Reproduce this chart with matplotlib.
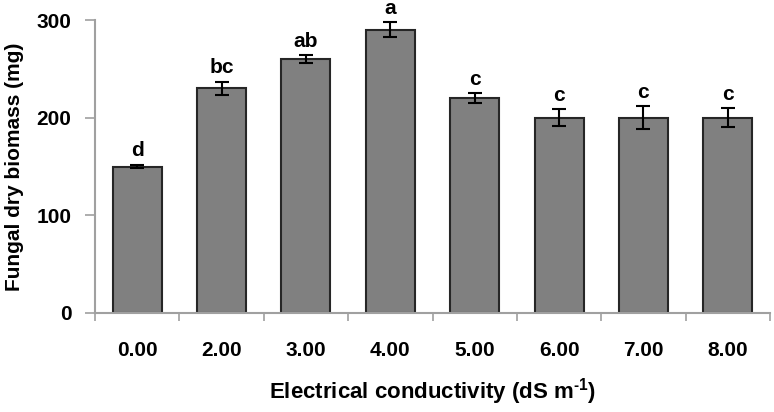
import matplotlib
matplotlib.use("Agg")
import matplotlib.pyplot as plt
import numpy as np

categories = ["0.00", "2.00", "3.00", "4.00", "5.00", "6.00", "7.00", "8.00"]
values = [150, 230, 260, 290, 220, 200, 200, 200]
errors = [2, 7, 4, 7.5, 5, 9, 12, 10]
letters = ["d", "bc", "ab", "a", "c", "c", "c", "c"]

plt.rcParams['font.family'] = ['Liberation Sans', 'DejaVu Sans']
plt.rcParams['font.weight'] = 'bold'
plt.rcParams['mathtext.fontset'] = 'custom'
plt.rcParams['mathtext.rm'] = 'Liberation Sans:bold'
plt.rcParams['mathtext.bf'] = 'Liberation Sans:bold'
plt.rcParams['mathtext.default'] = 'bf'

fig = plt.figure(figsize=(7.74, 4.12), dpi=100)
ax = fig.add_axes([95/774, 1-313/412, 675/774, 293/412])

x = np.arange(len(categories))
ax.bar(x, values, width=0.58, color='#808080', edgecolor='#262626', linewidth=1.5,
       yerr=errors, error_kw=dict(ecolor='black', elinewidth=1.5, capsize=5, capthick=1.5), zorder=2)

for xi, v, e, l in zip(x, values, errors, letters):
    ax.text(xi, v + e + 8.5, l, ha='center', va='baseline', fontsize=15, fontweight='bold')

ax.set_xlim(-0.5, len(categories) - 0.5)
ax.set_ylim(0, 300)
ax.set_yticks([0, 100, 200, 300])
ax.set_xticks(x)
ax.set_xticklabels(categories, fontsize=15, fontweight='bold')
ax.set_xticks(np.arange(-0.5, len(categories), 1), minor=True)
ax.tick_params(axis='x', which='major', length=0, pad=20)
ax.tick_params(axis='x', which='minor', length=6, width=1.2, color='#a0a0a0', direction='out')
ax.tick_params(axis='y', length=7, width=1.2, color='#a0a0a0', labelsize=15, pad=10)
for lab in ax.get_yticklabels():
    lab.set_fontweight('bold')

for s in ['top', 'right']:
    ax.spines[s].set_visible(False)
for s in ['left', 'bottom']:
    ax.spines[s].set_color('#a0a0a0')
    ax.spines[s].set_linewidth(1.5)

ax.set_ylabel('Fungal dry biomass (mg)', fontsize=15, fontweight='bold', labelpad=9)
ax.set_xlabel('Electrical conductivity (dS m$^{\\text{-1}}$)', fontsize=16, fontweight='bold', labelpad=12)

fig.savefig('out.png', dpi=100)
